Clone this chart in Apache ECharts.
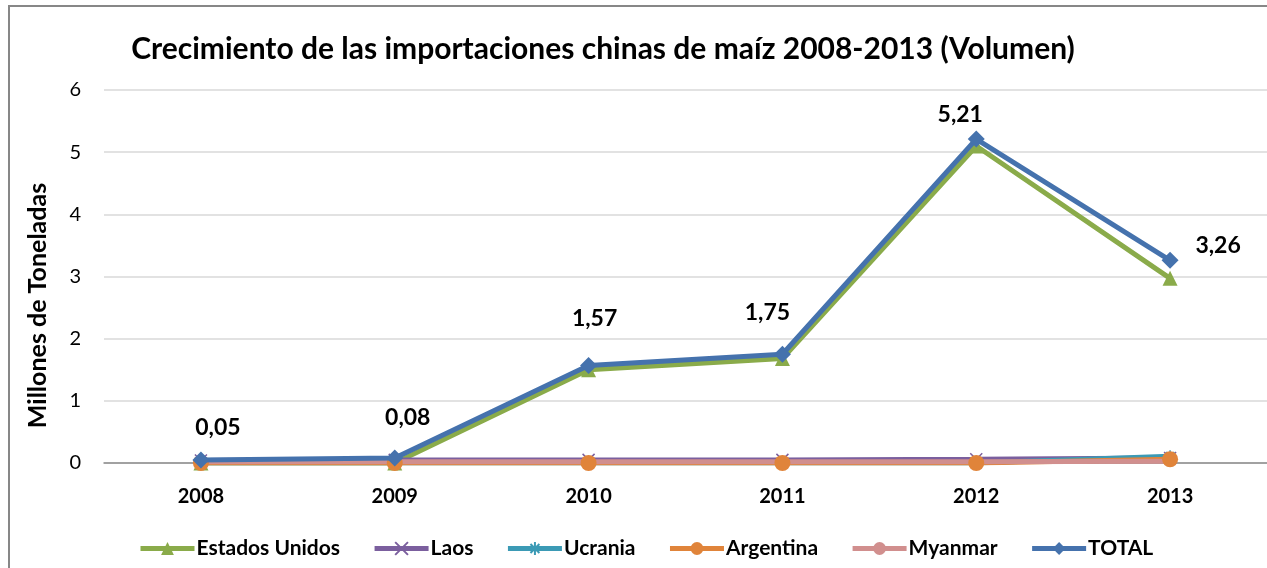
<!DOCTYPE html>
<html>
<head>
<meta charset="utf-8">
<script src="https://cdn.jsdelivr.net/npm/echarts@6/dist/echarts.min.js"></script>
<style>
  html, body { margin: 0; padding: 0; background: #fff; }
  #chart { width: 1267px; height: 568px; }
</style>
</head>
<body>
<div id="chart"></div>
<script>
const years = ["2008", "2009", "2010", "2011", "2012", "2013"];
const estadosUnidos = [0.0, 0.0, 1.50, 1.68, 5.10, 2.97];
const laos = [0.04, 0.05, 0.05, 0.05, 0.06, 0.08];
const ucrania = [0.0, 0.0, 0.0, 0.0, 0.0, 0.11];
const argentina = [0.0, 0.0, 0.0, 0.0, 0.0, 0.06];
const myanmar = [0.02, 0.02, 0.02, 0.02, 0.02, 0.03];
const total = [0.05, 0.08, 1.57, 1.75, 5.21, 3.26];
const yTicks = [0, 1, 2, 3, 4, 5, 6];

const FONT = "Lato";
const xMark = "path://M0,0L10,10M10,0L0,10";
const starMark = "path://M5,0L5,10M0,5L10,5M1.5,1.5L8.5,8.5M8.5,1.5L1.5,8.5";

// where each TOTAL label sits relative to its point (px)
const labelOffsets = [[17, -32], [13, -40], [6, -47], [-15, -42], [-16, -25], [48, -15]];

const chart = echarts.init(document.getElementById("chart"));

const totalData = total.map((v, i) => ({
  value: v,
  label: { offset: labelOffsets[i] }
}));

chart.setOption({
  animation: false,
  textStyle: { fontFamily: FONT },
  title: {
    text: "Crecimiento de las importaciones chinas de maíz 2008-2013 (Volumen)",
    left: 598, top: 29, textAlign: "center",
    textStyle: { fontFamily: FONT, fontWeight: "bold", fontSize: 30, color: "#000" }
  },
  graphic: [{
    type: "rect", z: -1,
    shape: { x: 9, y: 6, width: 1300, height: 600 },
    style: { fill: "none", stroke: "#878787", lineWidth: 2 }
  }],
  legend: {
    left: 133, top: 533,
    itemWidth: 54, itemHeight: 16, itemGap: 32,
    lineStyle: { width: 5 },
    textStyle: { fontFamily: FONT, fontWeight: "bold", fontSize: 21, color: "#000", padding: [0, 0, 0, -3] },
    data: ["Estados Unidos", "Laos", "Ucrania", "Argentina", "Myanmar", "TOTAL"]
  },
  grid: { left: 104, right: -19, top: 90, bottom: 105 },
  xAxis: {
    type: "category",
    data: years,
    boundaryGap: true,
    axisLine: { lineStyle: { color: "#8c8c8c", width: 1.5 } },
    axisTick: { show: false },
    axisLabel: { fontFamily: FONT, fontWeight: "bold", fontSize: 20, color: "#000", margin: 24 }
  },
  yAxis: {
    type: "value",
    min: yTicks[0], max: yTicks[yTicks.length - 1], interval: 1,
    name: "Millones de Toneladas",
    nameLocation: "middle",
    nameGap: 54,
    nameTextStyle: { fontFamily: FONT, fontWeight: "bold", fontSize: 25, color: "#000", padding: [0, 0, 0, -58] },
    axisLine: { show: false },
    axisTick: { show: false },
    axisLabel: { fontFamily: FONT, fontSize: 20, color: "#000", margin: 23 },
    splitLine: { lineStyle: { color: "#d9d9d9", width: 1.5 } }
  },
  series: [
    {
      name: "Estados Unidos", type: "line", data: estadosUnidos,
      symbol: "triangle", symbolSize: 15,
      lineStyle: { color: "#8aab4a", width: 5 },
      itemStyle: { color: "#8aab4a" }, z: 3
    },
    {
      name: "Laos", type: "line", data: laos,
      symbol: xMark, symbolSize: 12,
      lineStyle: { color: "#7b5f9e", width: 5 },
      itemStyle: { color: "#7b5f9e", borderColor: "#7b5f9e", borderWidth: 1.5 }, z: 3
    },
    {
      name: "Ucrania", type: "line", data: ucrania,
      symbol: starMark, symbolSize: 12,
      lineStyle: { color: "#3b9ab5", width: 5 },
      itemStyle: { color: "#3b9ab5", borderColor: "#3b9ab5", borderWidth: 1.5 }, z: 3
    },
    {
      name: "Argentina", type: "line", data: argentina,
      symbol: "circle", symbolSize: 16,
      lineStyle: { color: "#e0843a", width: 5 },
      itemStyle: { color: "#e0843a" }, z: 4
    },
    {
      name: "Myanmar", type: "line", data: myanmar,
      symbol: "none",
      lineStyle: { color: "#d18f8e", width: 5 },
      itemStyle: { color: "#d18f8e" }, z: 4
    },
    {
      name: "TOTAL", type: "line", data: totalData,
      symbol: "diamond", symbolSize: 17,
      lineStyle: { color: "#4572ad", width: 5 },
      itemStyle: { color: "#4572ad" }, z: 5,
      label: {
        show: true, position: "inside",
        align: "center", verticalAlign: "middle",
        fontFamily: FONT, fontWeight: "bold", fontSize: 23, color: "#000",
        formatter: p => p.value.toFixed(2).replace(".", ",")
      }
    }
  ]
});
</script>
</body>
</html>
